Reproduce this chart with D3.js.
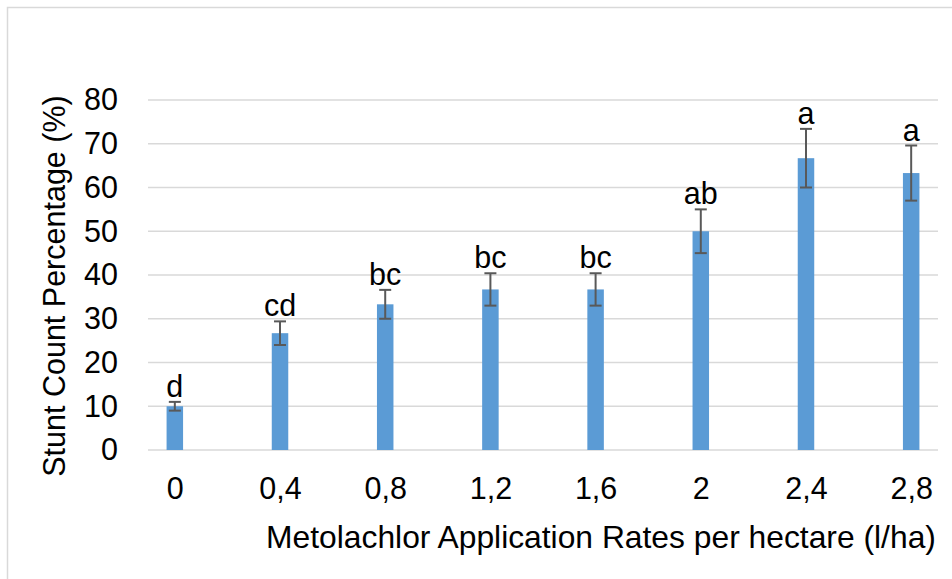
<!DOCTYPE html>
<html>
<head>
<meta charset="utf-8">
<script src="https://cdn.jsdelivr.net/npm/d3@7"></script>
<style>
  body { margin: 0; background: #fff; }
  text { font-family: "Liberation Sans", Arial, sans-serif; fill: #000; }
</style>
</head>
<body>
<script>
// chart values
const rates = ['0', '0,4', '0,8', '1,2', '1,6', '2', '2,4', '2,8'];
const stunt = [10, 26.7, 33.3, 36.7, 36.7, 50, 66.7, 63.3];
const errors = [1, 2.7, 3.3, 3.7, 3.7, 5, 6.7, 6.3];
const letters = ['d', 'cd', 'bc', 'bc', 'bc', 'ab', 'a', 'a'];
const yTicks = [0, 10, 20, 30, 40, 50, 60, 70, 80];

const svgWidth = 952;
const svgHeight = 579;
const margin = { top: 100, right: 14, bottom: 129, left: 148 };
const fontSize = 30.5;

const svg = d3.select('body')
    .append('svg')
    .attr('width', svgWidth)
    .attr('height', svgHeight);

// chart frame
svg.append('rect')
    .attr('x', 7.5)
    .attr('y', 7.5)
    .attr('width', 1200)
    .attr('height', 1200)
    .attr('fill', 'none')
    .attr('stroke', '#d9d9d9')
    .attr('stroke-width', 1.5);

const xScale = d3.scalePoint()
    .domain(rates)
    .range([margin.left, svgWidth - margin.right])
    .padding(0.255);

const yScale = d3.scaleLinear()
    .domain([0, 80])
    .range([svgHeight - margin.bottom, margin.top]);

// gridlines
svg.append('g')
    .selectAll('line')
    .data(yTicks)
    .enter()
    .append('line')
    .attr('x1', margin.left)
    .attr('x2', svgWidth - margin.right)
    .attr('y1', d => yScale(d))
    .attr('y2', d => yScale(d))
    .attr('stroke', '#d9d9d9')
    .attr('stroke-width', 1.5);

// y axis labels
const yAxis = svg.append('g')
    .attr('transform', `translate(${margin.left},0)`)
    .call(d3.axisLeft(yScale).tickValues(yTicks).tickSize(0).tickPadding(30));
yAxis.select('.domain').remove();
yAxis.selectAll('text')
    .style('font-size', fontSize + 'px')
    .style('font-family', '"Liberation Sans", Arial, sans-serif');

// x axis labels
const xAxis = svg.append('g')
    .attr('transform', `translate(0,${yScale(0)})`)
    .call(d3.axisBottom(xScale).tickSize(0).tickPadding(27));
xAxis.select('.domain').remove();
xAxis.selectAll('text')
    .style('font-size', fontSize + 'px')
    .style('font-family', '"Liberation Sans", Arial, sans-serif');

const barWidth = 16.5;
const rows = rates.map((r, i) => ({ rate: r, value: stunt[i], err: errors[i], letter: letters[i] }));

// bars
svg.selectAll('.bar')
    .data(rows)
    .enter()
    .append('rect')
    .attr('class', 'bar')
    .attr('x', d => xScale(d.rate) - barWidth / 2)
    .attr('y', d => yScale(d.value))
    .attr('width', barWidth)
    .attr('height', d => yScale(0) - yScale(d.value))
    .attr('fill', '#5b9bd5');

// error bars
const err = svg.selectAll('.err')
    .data(rows)
    .enter()
    .append('g')
    .attr('class', 'err')
    .attr('stroke', '#595959')
    .attr('stroke-width', 2);
err.append('line')
    .attr('x1', d => xScale(d.rate))
    .attr('x2', d => xScale(d.rate))
    .attr('y1', d => yScale(d.value - d.err))
    .attr('y2', d => yScale(d.value + d.err));
err.append('line')
    .attr('x1', d => xScale(d.rate) - 6)
    .attr('x2', d => xScale(d.rate) + 6)
    .attr('y1', d => yScale(d.value + d.err))
    .attr('y2', d => yScale(d.value + d.err));
err.append('line')
    .attr('x1', d => xScale(d.rate) - 6)
    .attr('x2', d => xScale(d.rate) + 6)
    .attr('y1', d => yScale(d.value - d.err))
    .attr('y2', d => yScale(d.value - d.err));

// significance letters
svg.selectAll('.letter')
    .data(rows)
    .enter()
    .append('text')
    .attr('class', 'letter')
    .attr('x', d => xScale(d.rate))
    .attr('y', d => yScale(d.value + d.err) - 5)
    .style('text-anchor', 'middle')
    .style('font-size', fontSize + 'px')
    .text(d => d.letter);

// axis titles
svg.append('text')
    .attr('x', 601)
    .attr('y', 548)
    .style('text-anchor', 'middle')
    .style('font-size', '31.8px')
    .text('Metolachlor Application Rates per hectare (l/ha)');

svg.append('text')
    .attr('transform', 'rotate(-90)')
    .attr('x', -286)
    .attr('y', 65)
    .style('text-anchor', 'middle')
    .style('font-size', fontSize + 'px')
    .text('Stunt Count Percentage (%)');
</script>
</body>
</html>
